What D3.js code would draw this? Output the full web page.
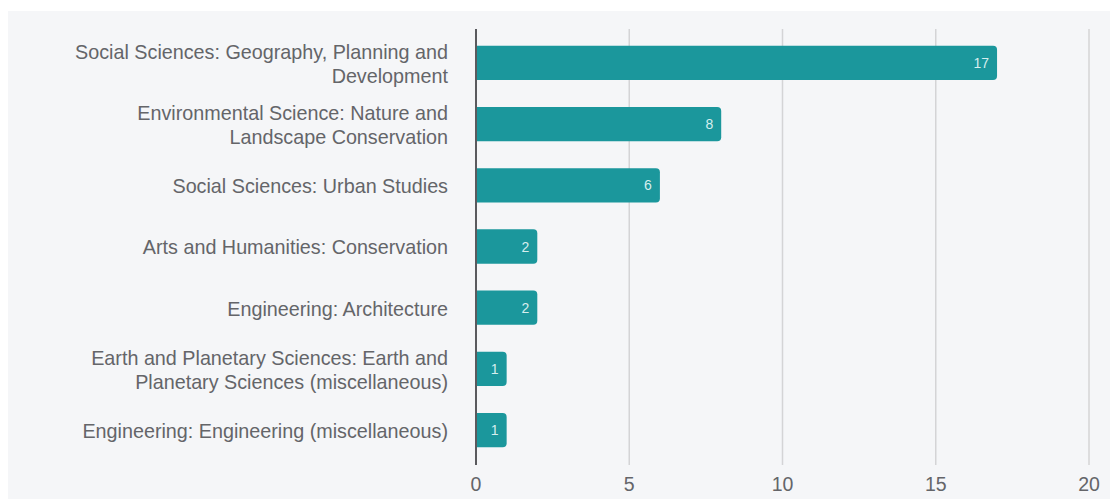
<!DOCTYPE html>
<html>
<head>
<meta charset="utf-8">
<script src="https://cdn.jsdelivr.net/npm/d3@7"></script>
<style>
  html, body { margin: 0; padding: 0; background: #ffffff; }
  svg { display: block; }
  text { font-family: "Liberation Sans", Arial, sans-serif; }
</style>
</head>
<body>
<svg id="chart" width="1110" height="499"></svg>
<script>
// Subject areas (each entry is a list of label lines) and their counts
const categories = [
  ["Social Sciences: Geography, Planning and", "Development"],
  ["Environmental Science: Nature and", "Landscape Conservation"],
  ["Social Sciences: Urban Studies"],
  ["Arts and Humanities: Conservation"],
  ["Engineering: Architecture"],
  ["Earth and Planetary Sciences: Earth and", "Planetary Sciences (miscellaneous)"],
  ["Engineering: Engineering (miscellaneous)"]
];
const counts = [17, 8, 6, 2, 2, 1, 1];
const xTicks = [0, 5, 10, 15, 20];

const W = 1110, H = 499;
const svg = d3.select("#chart");

// panel background
svg.append("rect")
  .attr("x", 8).attr("y", 11)
  .attr("width", W - 8).attr("height", H - 11)
  .attr("fill", "#f5f6f8");

const x = d3.scaleLinear().domain([0, 20]).range([476, 1089]);
const y = d3.scaleBand()
  .domain(d3.range(categories.length))
  .range([32.4, 460.6])
  .paddingInner(0.44)
  .paddingOuter(0.22);

const gridTop = 29, gridBottom = 465;

// vertical grid lines
svg.append("g").selectAll("line")
  .data(xTicks.filter(t => t !== 0))
  .join("line")
  .attr("x1", d => x(d)).attr("x2", d => x(d))
  .attr("y1", gridTop).attr("y2", gridBottom)
  .attr("stroke", "#d4d4d6").attr("stroke-width", 1.5);

// x tick labels
svg.append("g").selectAll("text")
  .data(xTicks)
  .join("text")
  .attr("x", d => x(d))
  .attr("y", 491)
  .attr("text-anchor", "middle")
  .attr("font-size", 19.5)
  .attr("fill", "#646569")
  .text(d => d);

// bars with rounded right end
function barPath(x0, x1, yt, h, r) {
  r = Math.min(r, (x1 - x0));
  return `M${x0},${yt}H${x1 - r}Q${x1},${yt} ${x1},${yt + r}V${yt + h - r}Q${x1},${yt + h} ${x1 - r},${yt + h}H${x0}Z`;
}

svg.append("g").selectAll("path")
  .data(counts)
  .join("path")
  .attr("d", (d, i) => barPath(x(0), x(d), y(i), y.bandwidth(), 4))
  .attr("fill", "#1b979c");

// value labels inside bars
svg.append("g").selectAll("text")
  .data(counts)
  .join("text")
  .attr("x", d => x(d) - 8)
  .attr("y", (d, i) => y(i) + y.bandwidth() / 2)
  .attr("dy", "0.36em")
  .attr("text-anchor", "end")
  .attr("font-size", 14)
  .attr("fill", "#d6eeee")
  .text(d => d);

// zero axis line
svg.append("line")
  .attr("x1", x(0)).attr("x2", x(0))
  .attr("y1", gridTop).attr("y2", gridBottom)
  .attr("stroke", "#5a5a5e").attr("stroke-width", 2);

// category labels
const lineH = 24;
const labels = svg.append("g").selectAll("text")
  .data(categories)
  .join("text")
  .attr("text-anchor", "end")
  .attr("font-size", 19.75)
  .attr("fill", "#646569");

labels.each(function (lines, i) {
  const cy = y(i) + y.bandwidth() / 2;
  const startY = cy - (lines.length - 1) * lineH / 2;
  d3.select(this).selectAll("tspan")
    .data(lines)
    .join("tspan")
    .attr("x", 448)
    .attr("y", (d, j) => startY + j * lineH)
    .attr("dy", "0.4em")
    .text(d => d);
});
</script>
</body>
</html>
